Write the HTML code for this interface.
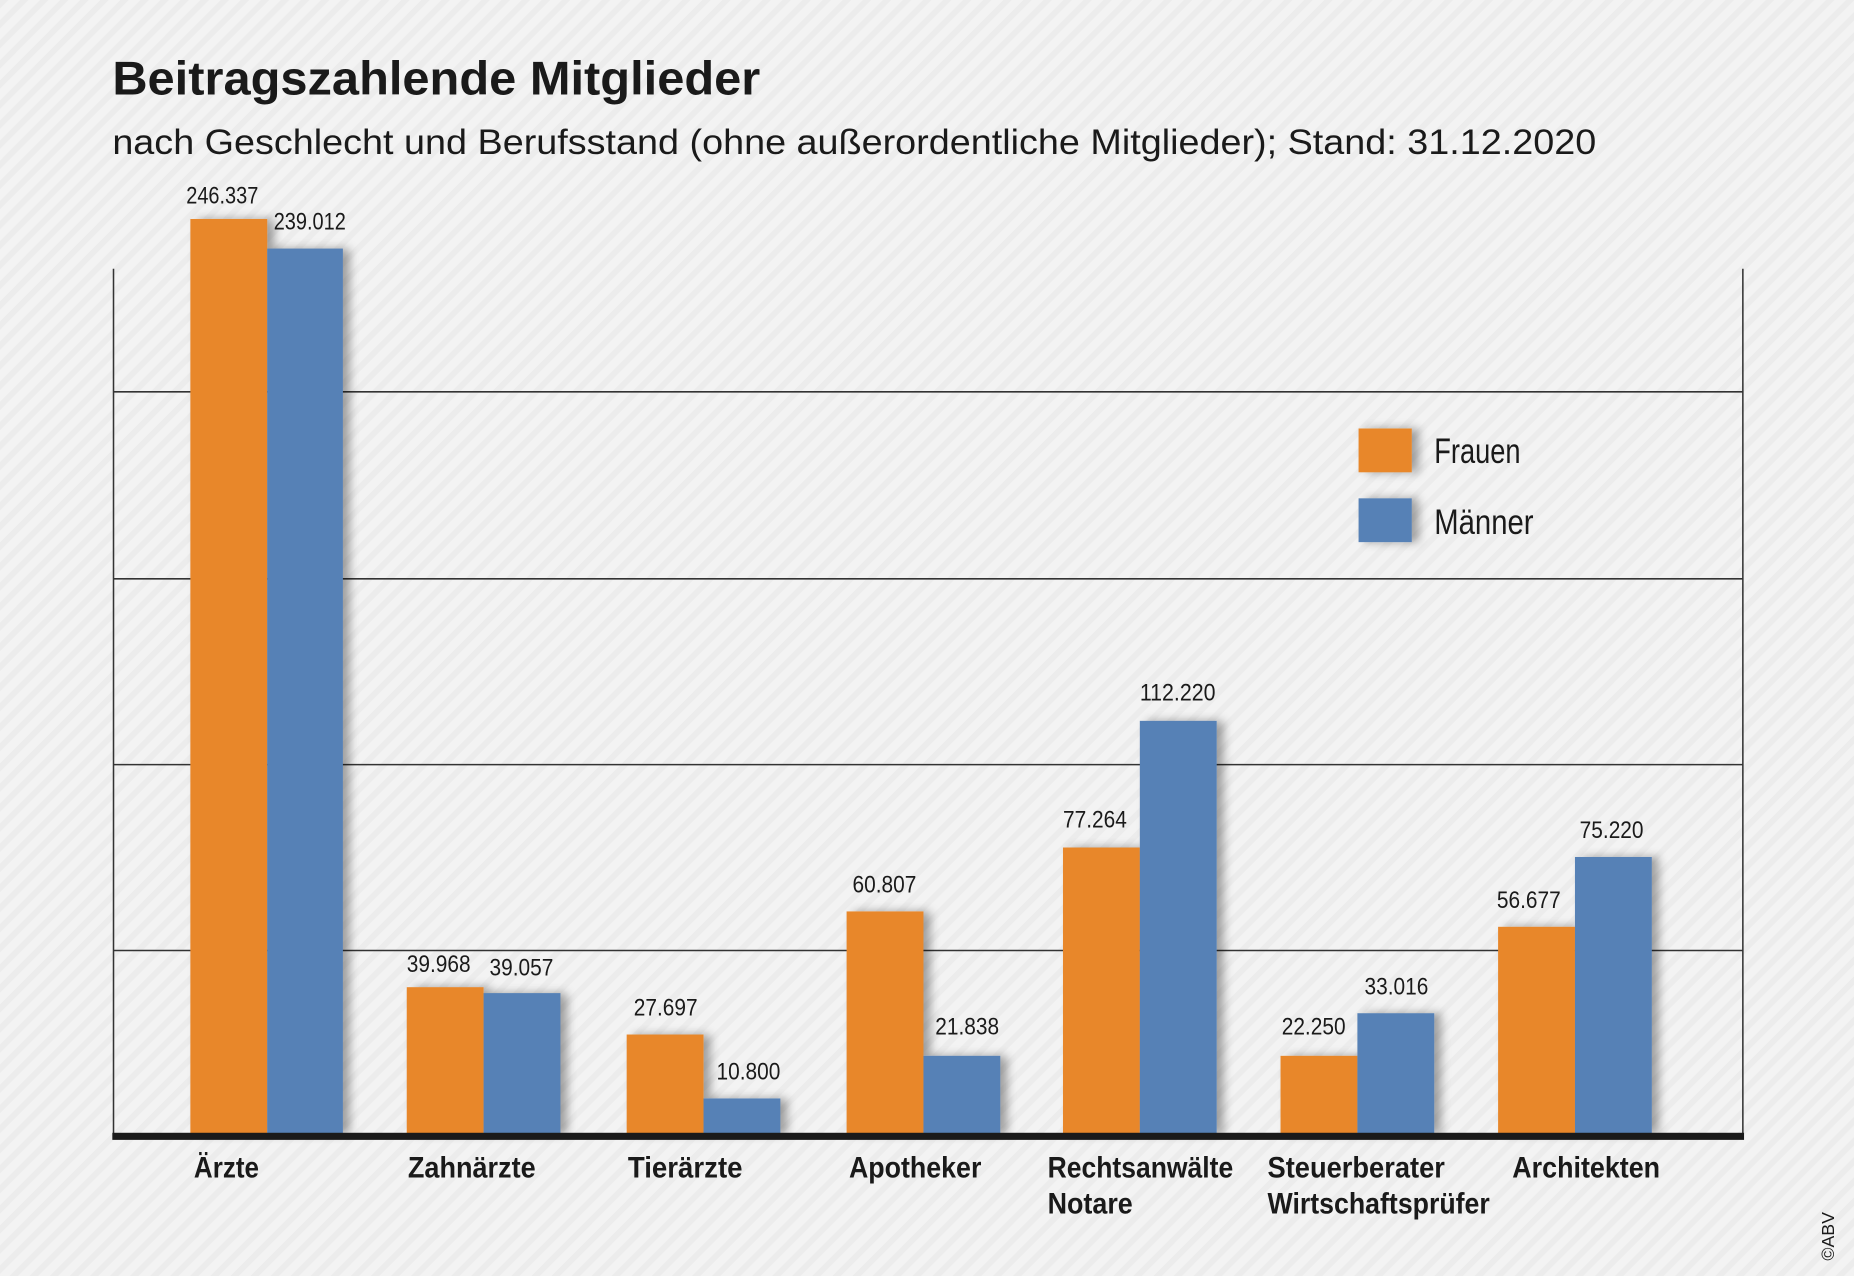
<!DOCTYPE html>
<html><head><meta charset="utf-8"><style>
html,body{margin:0;padding:0;background:#f2f2f2;}
svg{display:block;}
text{font-family:"Liberation Sans Narrow","Liberation Sans",sans-serif;fill:#1a1a1a;}
</style></head><body>
<svg width="1854" height="1276" viewBox="0 0 1568 1078" preserveAspectRatio="none" xmlns="http://www.w3.org/2000/svg">
<defs>
<pattern id="st" width="12" height="12" patternUnits="userSpaceOnUse" patternTransform="rotate(-45)">
<rect width="12" height="12" fill="#f3f3f3"/><rect width="12" height="5" fill="#ececec"/>
</pattern>
<filter id="sh" x="-20%" y="-5%" width="160%" height="110%"><feGaussianBlur in="SourceAlpha" stdDeviation="4"/><feOffset dx="6" dy="0"/><feComponentTransfer><feFuncA type="linear" slope="0.35"/></feComponentTransfer><feMerge><feMergeNode/><feMergeNode in="SourceGraphic"/></feMerge></filter>
</defs>
<rect width="1568" height="1078" fill="url(#st)"/>
<text x="95" y="80" font-size="40" font-weight="bold" textLength="548" lengthAdjust="spacingAndGlyphs" style="font-family:'Liberation Sans',sans-serif">Beitragszahlende Mitglieder</text>
<text x="95" y="130" font-size="30" textLength="1255" lengthAdjust="spacingAndGlyphs" style="font-family:'Liberation Sans',sans-serif">nach Geschlecht und Berufsstand (ohne außerordentliche Mitglieder);  Stand: 31.12.2020</text>
<g stroke="#333" stroke-width="1.3">
<line x1="96" y1="227" x2="96" y2="960"/><line x1="1474" y1="227" x2="1474" y2="960"/>
<line x1="96" y1="331" x2="1474" y2="331"/><line x1="96" y1="489" x2="1474" y2="489"/>
<line x1="96" y1="646" x2="1474" y2="646"/><line x1="96" y1="803" x2="1474" y2="803"/>
</g>
<g filter="url(#sh)">
<rect x="161" y="185" width="65" height="773" fill="#e8872a"/><rect x="226" y="210" width="64" height="748" fill="#5781b6"/>
<rect x="344" y="834" width="65" height="124" fill="#e8872a"/><rect x="409" y="839" width="65" height="119" fill="#5781b6"/>
<rect x="530" y="874" width="65" height="84" fill="#e8872a"/><rect x="595" y="928" width="65" height="30" fill="#5781b6"/>
<rect x="716" y="770" width="65" height="188" fill="#e8872a"/><rect x="781" y="892" width="65" height="66" fill="#5781b6"/>
<rect x="899" y="716" width="65" height="242" fill="#e8872a"/><rect x="964" y="609" width="65" height="349" fill="#5781b6"/>
<rect x="1083" y="892" width="65" height="66" fill="#e8872a"/><rect x="1148" y="856" width="65" height="102" fill="#5781b6"/>
<rect x="1267" y="783" width="65" height="175" fill="#e8872a"/><rect x="1332" y="724" width="65" height="234" fill="#5781b6"/>
<rect x="1149" y="362" width="45" height="37" fill="#e8872a"/><rect x="1149" y="421" width="45" height="37" fill="#5781b6"/>
</g>
<rect x="95" y="957" width="1380" height="6" fill="#1a1a1a"/>
<g font-size="20" text-anchor="middle" lengthAdjust="spacingAndGlyphs">
<text x="188" y="172" textLength="61" lengthAdjust="spacingAndGlyphs">246.337</text><text x="262" y="194" textLength="61" lengthAdjust="spacingAndGlyphs">239.012</text>
<text x="371" y="821" textLength="54" lengthAdjust="spacingAndGlyphs">39.968</text><text x="441" y="824" textLength="54" lengthAdjust="spacingAndGlyphs">39.057</text>
<text x="563" y="858" textLength="54" lengthAdjust="spacingAndGlyphs">27.697</text><text x="633" y="912" textLength="54" lengthAdjust="spacingAndGlyphs">10.800</text>
<text x="748" y="754" textLength="54" lengthAdjust="spacingAndGlyphs">60.807</text><text x="818" y="874" textLength="54" lengthAdjust="spacingAndGlyphs">21.838</text>
<text x="926" y="699" textLength="54" lengthAdjust="spacingAndGlyphs">77.264</text><text x="996" y="592" textLength="64" lengthAdjust="spacingAndGlyphs">112.220</text>
<text x="1111" y="874" textLength="54" lengthAdjust="spacingAndGlyphs">22.250</text><text x="1181" y="840" textLength="54" lengthAdjust="spacingAndGlyphs">33.016</text>
<text x="1293" y="767" textLength="54" lengthAdjust="spacingAndGlyphs">56.677</text><text x="1363" y="708" textLength="54" lengthAdjust="spacingAndGlyphs">75.220</text>
</g>
<g font-size="25" font-weight="bold">
<text x="164" y="995" textLength="55" lengthAdjust="spacingAndGlyphs">Ärzte</text>
<text x="345" y="995" textLength="108" lengthAdjust="spacingAndGlyphs">Zahnärzte</text>
<text x="531" y="995" textLength="97" lengthAdjust="spacingAndGlyphs">Tierärzte</text>
<text x="718" y="995" textLength="112" lengthAdjust="spacingAndGlyphs">Apotheker</text>
<text x="886" y="995" textLength="157" lengthAdjust="spacingAndGlyphs">Rechtsanwälte</text>
<text x="886" y="1025" textLength="72" lengthAdjust="spacingAndGlyphs">Notare</text>
<text x="1072" y="995" textLength="150" lengthAdjust="spacingAndGlyphs">Steuerberater</text>
<text x="1072" y="1025" textLength="188" lengthAdjust="spacingAndGlyphs">Wirtschaftsprüfer</text>
<text x="1279" y="995" textLength="125" lengthAdjust="spacingAndGlyphs">Architekten</text>
</g>
<text x="1213" y="391" font-size="30" textLength="73" lengthAdjust="spacingAndGlyphs">Frauen</text>
<text x="1213" y="451" font-size="30" textLength="84" lengthAdjust="spacingAndGlyphs">Männer</text>
<text x="0" y="0" font-size="15" transform="translate(1551,1065) rotate(-90)">©ABV</text>
</svg>
</body></html>
